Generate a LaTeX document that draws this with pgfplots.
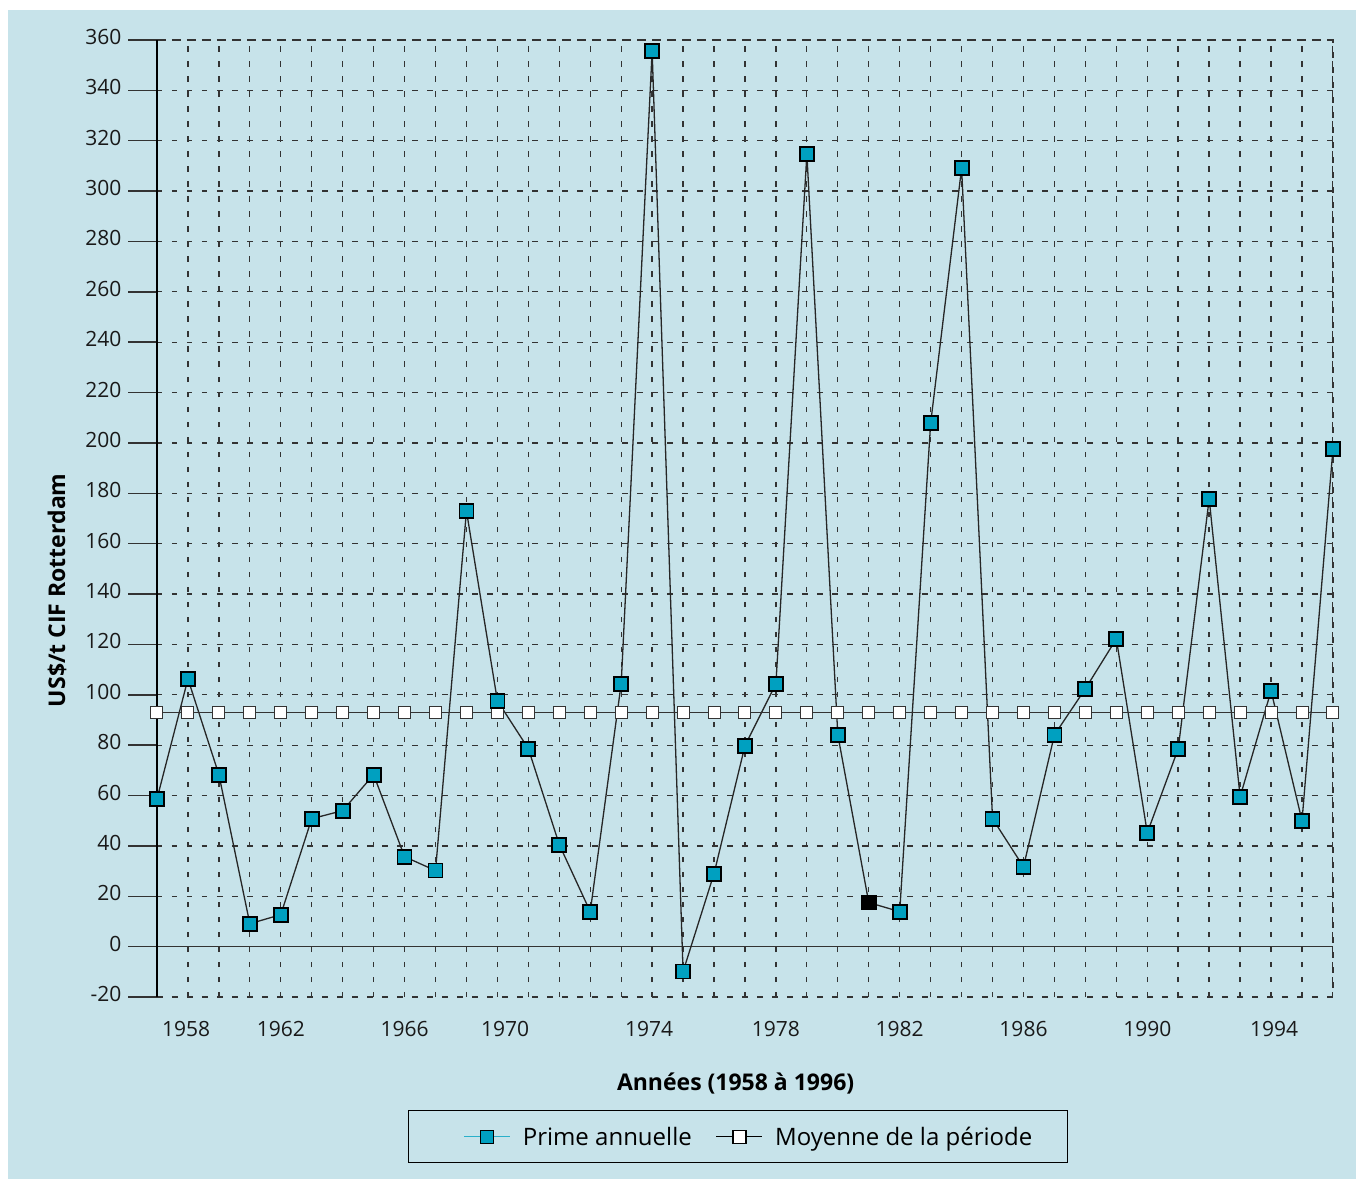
\documentclass[border=0pt]{standalone}
\usepackage{pgfplots}
\pgfplotsset{compat=1.18}
\usepackage{pgfplotstable}
\usepackage{fontspec}
\setmainfont{Open Sans}
\definecolor{bg}{HTML}{C7E3EA}
\definecolor{mk}{HTML}{00A0C0}
\definecolor{lg}{HTML}{2AB0CA}
\definecolor{gr}{HTML}{333333}

\pgfplotstableread{
year prime
1958 58.7
1959 106.3
1960 68.3
1961 9.1
1962 12.7
1963 50.8
1964 54.0
1965 68.3
1966 35.7
1967 30.2
1968 173.0
1969 97.6
1970 78.6
1971 40.5
1972 13.9
1973 104.4
1974 355.6
1975 -9.9
1976 29.0
1977 79.8
1978 104.4
1979 314.7
1980 84.1
1981 17.5
1982 13.9
1983 207.9
1984 309.1
1985 50.8
1986 31.7
1987 84.1
1988 102.4
1989 122.2
1990 45.2
1991 78.6
1992 177.8
1993 59.5
1994 101.6
1995 50.0
1996 197.6
}\prime

\pgfplotstableread{
year moy
1958 92.9
1959 92.9
1960 92.9
1961 92.9
1962 92.9
1963 92.9
1964 92.9
1965 92.9
1966 92.9
1967 92.9
1968 92.9
1969 92.9
1970 92.9
1971 92.9
1972 92.9
1973 92.9
1974 92.9
1975 92.9
1976 92.9
1977 92.9
1978 92.9
1979 92.9
1980 92.9
1981 92.9
1982 92.9
1983 92.9
1984 92.9
1985 92.9
1986 92.9
1987 92.9
1988 92.9
1989 92.9
1990 92.9
1991 92.9
1992 92.9
1993 92.9
1994 92.9
1995 92.9
1996 92.9
}\moyenne

\begin{document}
\begin{tikzpicture}[x=1pt,y=1pt]
\fill[white] (-157,-182) rectangle (1199,997);
\fill[bg] (-149,-182) rectangle (1199,987);
\begin{axis}[
  at={(0,0)}, anchor=south west,
  scale only axis, width=1176pt, height=957pt,
  xmin=1958, xmax=1996, ymin=-20, ymax=360,
  xtick={1958,...,1996}, xticklabels={},
  xtick style={draw=none},
  extra x ticks={1958.94,1962,1966,1969.25,1973.9,1978,1982,1986,1990,1994.1},
  extra x tick labels={1958,1962,1966,1970,1974,1978,1982,1986,1990,1994},
  extra x tick style={grid=none, tick style={draw=none},
     xticklabel style={yshift=8pt}},
  ytick={-20,0,20,40,60,80,100,120,140,160,180,200,220,240,260,280,300,320,340,360},
  yticklabels={-20,0,20,40,60,80,100,120,140,160,180,200,220,240,260,280,300,320,340,360},
  ytick pos=left, tick align=outside, major tick length=29pt,
  ytick style={gr, line width=1.5pt},
  yticklabel style={anchor=east, xshift=-3pt, yshift=3pt},
  ticklabel style={font=\fontsize{21}{24}\selectfont, text=black!90},
  grid=major,
  major grid style={gr, line width=1.3pt, dash pattern=on 5.5pt off 9.5pt},
  axis line style={gr, line width=1.3pt, dash pattern=on 5.5pt off 9.5pt},
  xlabel={Années (1958 à 1996)},
  xlabel style={at={(axis description cs:0.492,-0.09)}, anchor=center,
     font=\bfseries\fontsize{23}{26}\selectfont},
  ylabel={US\$/t CIF Rotterdam},
  ylabel style={at={(axis description cs:-0.085,0.425)}, anchor=center,
     font=\bfseries\fontsize{23}{26}\selectfont},
  legend columns=2,
  legend style={at={(0.494,-0.146)}, anchor=center, draw=black, line width=1.2pt,
     fill=bg, inner xsep=33pt, inner ysep=14pt,
     font=\fontsize{24}{27}\selectfont,
     /tikz/every odd column/.append style={column sep=10pt},
     /tikz/every even column/.append style={column sep=0pt}},
  legend image code/.code={\path (-22pt,0pt);
     \draw[#1, mark repeat=2, mark phase=2]
     plot coordinates {(0pt,0pt) (23pt,0pt) (46pt,0pt)};},
  clip=false,
]
\addlegendimage{lg, line width=1.3pt, mark=square*, mark size=6.5pt,
   mark options={fill=mk, draw=black, line width=1.3pt}}
\addlegendentry{Prime annuelle}
\addlegendimage{black, line width=1.3pt, mark=square*, mark size=6.5pt,
   mark options={fill=white, draw=black, line width=1.3pt}}
\addlegendentry{Moyenne de la période}

\draw[gr, line width=1.6pt] (axis cs:1958,0) -- (axis cs:1996,0);
\draw[black, line width=1.6pt] (axis cs:1958,-20) -- (axis cs:1958,360);

\addplot[forget plot, black!85, line width=1.3pt, no marks] table[x=year, y=prime] {\prime};
\addplot[forget plot, gr, line width=1.5pt, mark=square*, mark size=6pt,
   mark options={fill=white, draw=gr, line width=1pt}] table[x=year, y=moy] {\moyenne};
\addplot[forget plot, only marks, mark=square*, mark size=7pt,
   mark options={fill=mk, draw=black, line width=1.8pt}] table[x=year, y=prime] {\prime};
\addplot[forget plot, only marks, mark=square*, mark size=7pt,
   mark options={fill=black, draw=black, line width=1.8pt}] coordinates {(1981,17.5)};
\end{axis}
\end{tikzpicture}
\end{document}
